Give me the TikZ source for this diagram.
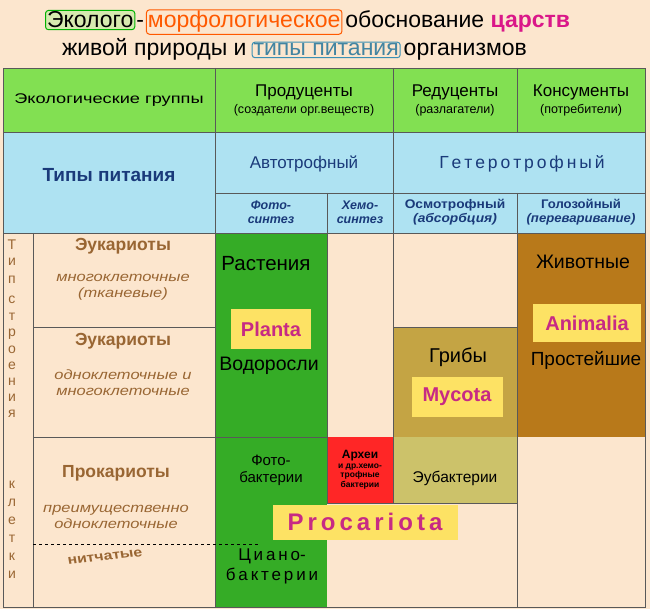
\documentclass[tikz,border=0pt]{standalone}
\usepackage{fontspec}
\setmainfont{Liberation Sans}
\begin{document}
\begin{tikzpicture}[x=1pt,y=-1pt,
  grid/.style={draw=gray!70!black,line width=0.7pt},
  lbl/.style={font=\fontsize{17}{18}\selectfont,align=center},
  ital/.style={font=\fontsize{13.5}{16}\selectfont\itshape,text=brown!80!black,align=center,xscale=1.22},
  euk/.style={font=\fontsize{17.5}{19}\selectfont\bfseries,text=brown!80!black},
  ttl/.style={font=\fontsize{23}{26}\selectfont,inner sep=1.5pt,anchor=base west,rounded corners=3pt,line width=1pt},
  king/.style={fill=yellow!70!orange!60,text=magenta!80!black,font=\fontsize{20}{22}\selectfont\bfseries,inner sep=0pt}]
\useasboundingbox (0,0) rectangle (650,609);
\definecolor{peach}{HTML}{FCE6CE}
\definecolor{hgreen}{HTML}{82E052}
\definecolor{lblue}{HTML}{AEE2F2}
\definecolor{dgreen}{HTML}{35AC26}
\definecolor{fung}{HTML}{C4A444}
\definecolor{eub}{HTML}{CCC26A}
\definecolor{anim}{HTML}{B8791A}
\definecolor{navy}{HTML}{1A3A7A}
\fill[peach] (0,0) rectangle (650,609);
% title
\node[ttl,draw=green!70!black,fill=green!15!peach] (ta) at (45,28) {Эколого};
\node[ttl,anchor=base west] (tb) at ([xshift=-1pt]ta.base east) {-};
\node[ttl,draw=orange!70!red,text=orange!70!red,anchor=base west] (tc) at (tb.base east) {морфологическое};
\node[ttl,anchor=base west] (td) at ([xshift=1pt]tc.base east) {обоснование {\bfseries\color{magenta!80!violet}царств}};
\node[ttl] (te) at (60,56) {живой природы и};
\node[ttl,draw=cyan!70!black,text=cyan!60!black,anchor=base west] (tf) at ([xshift=3pt]te.base east) {типы питания};
\node[ttl,anchor=base west] (tg) at ([xshift=1pt]tf.base east) {организмов};
% fills
\fill[hgreen] (3,68) rectangle (645,132);
\fill[lblue] (3,132) rectangle (645,233);
\fill[dgreen] (215,233) rectangle (327,607);
\fill[red!85!white] (327,437) rectangle (393,503);
\fill[eub] (393,437) rectangle (517,503);
\fill[fung] (393,327) rectangle (517,437);
\fill[anim] (517,233) rectangle (645,437);
% grid
\draw[grid] (3,68) rectangle (645,607);
\draw[grid] (3,132) -- (645,132);
\draw[grid] (3,233) -- (645,233);
\draw[grid] (215,193) -- (645,193);
\draw[grid] (215,68) -- (215,607);
\draw[grid] (393,68) -- (393,503);
\draw[grid] (517,68) -- (517,132) (517,193) -- (517,607);
\draw[grid] (327,193) -- (327,503);
\draw[grid] (33,233) -- (33,607);
\draw[grid] (33,327) -- (215,327);
\draw[grid] (33,437) -- (327,437);
\draw[grid] (393,327) -- (517,327);
\draw[grid] (327,503) -- (517,503);
\draw[dashed] (33,544) -- (258,544);
% header texts
\node[font=\fontsize{14}{16}\selectfont,xscale=1.3] (eg) at (109,100) {Экологические группы};
\node[lbl] (pr) at (304,100) {Продуценты\\[-1pt]{\fontsize{12.5}{14}\selectfont (создатели орг.веществ)}};
\node[lbl] (rd) at (455,100) {Редуценты\\[-1pt]{\fontsize{12.5}{14}\selectfont (разлагатели)}};
\node[lbl] (ks) at (581,100) {Консументы\\[-1pt]{\fontsize{12.5}{14}\selectfont (потребители)}};
\node[font=\fontsize{19}{21}\selectfont\bfseries,text=navy] (tp) at (109,175) {Типы питания};
\node[lbl,text=navy] (av) at (304,164) {Автотрофный};
\node[lbl,text=navy,font=\fontsize{17.5}{19}\selectfont] (gt) at (522,164) {Г\,е\,т\,е\,р\,о\,т\,р\,о\,ф\,н\,ы\,й};
\node[font=\fontsize{12.5}{14}\selectfont\bfseries\itshape,text=navy,align=center] (fs) at (271,212) {Фото-\\синтез};
\node[font=\fontsize{12.5}{14}\selectfont\bfseries\itshape,text=navy,align=center] (hs) at (360,212) {Хемо-\\синтез};
\node[font=\fontsize{12.5}{14}\selectfont\bfseries,text=navy,align=center,xscale=1.1] (os) at (455,212) {Осмотрофный\\{\itshape(абсорбция)}};
\node[font=\fontsize{12.5}{14}\selectfont\bfseries,text=navy,align=center,xscale=1.05] (gz) at (581,212) {Голозойный\\{\itshape(переваривание)}};
% left column
\foreach \ch/\yy in {Т/245,и/262,п/280,с/300,т/317,р/334,о/350,е/366,н/382,и/398,я/414,к/485,л/503,е/521,т/539,к/557,и/575}
  \node[text=brown!80!black,font=\fontsize{14}{16}\selectfont] at (12,\yy) {\ch};
\node[euk] (e1) at (123,246) {Эукариоты};
\node[ital] (e1t) at (123,287) {многоклеточные\\(тканевые)};
\node[euk] (e2) at (123,341) {Эукариоты};
\node[ital] (e2t) at (123,383) {одноклеточные и\\многоклеточные};
\node[euk] (e3) at (116,473) {Прокариоты};
\node[ital] (e3t) at (116,517) {преимущественно\\одноклеточные};
\node[ital,rotate=8,font=\fontsize{13}{15}\selectfont\bfseries] (nit) at (105,557) {нитчатые};
% body
\node[lbl,font=\fontsize{20.5}{22}\selectfont] (rast) at (266,264) {Растения};
\node[king,minimum width=80pt,minimum height=40pt] (pl) at (271,329) {Planta};
\node[lbl,font=\fontsize{19.5}{21}\selectfont] (vod) at (269,366) {Водоросли};
\node[lbl,font=\fontsize{15}{17}\selectfont] (fb) at (271,470) {Фото-\\бактерии};
\node[font=\fontsize{8.5}{9.5}\selectfont\bfseries,align=center] (arh) at (360,470) {{\fontsize{12}{13}\selectfont Археи}\\и др.хемо-\\трофные\\бактерии};
\node[lbl,font=\fontsize{15.5}{18}\selectfont] (eb) at (455,478) {Эубактерии};
\node[lbl,font=\fontsize{20}{22}\selectfont] (gr) at (458,357) {Грибы};
\node[king,minimum width=91pt,minimum height=40pt] (my) at (457,397) {Mycota};
\node[lbl,font=\fontsize{19.5}{21}\selectfont] (zh) at (583,262) {Животные};
\node[king,minimum width=108pt,minimum height=37pt] (an) at (587,323) {Animalia};
\node[lbl,font=\fontsize{19}{21}\selectfont] (ps) at (586,360) {Простейшие};
\node[king,minimum width=185pt,minimum height=35pt,font=\fontsize{24}{26}\selectfont\bfseries] (pc) at (365,522) {P\,r\,o\,c\,a\,r\,i\,o\,t\,a};
\node[lbl,font=\fontsize{17}{20}\selectfont] (cb) at (272,566) {Ц\,и\,а\,н\,о-\\б\,а\,к\,т\,е\,р\,и\,и};
\end{tikzpicture}
\end{document}
